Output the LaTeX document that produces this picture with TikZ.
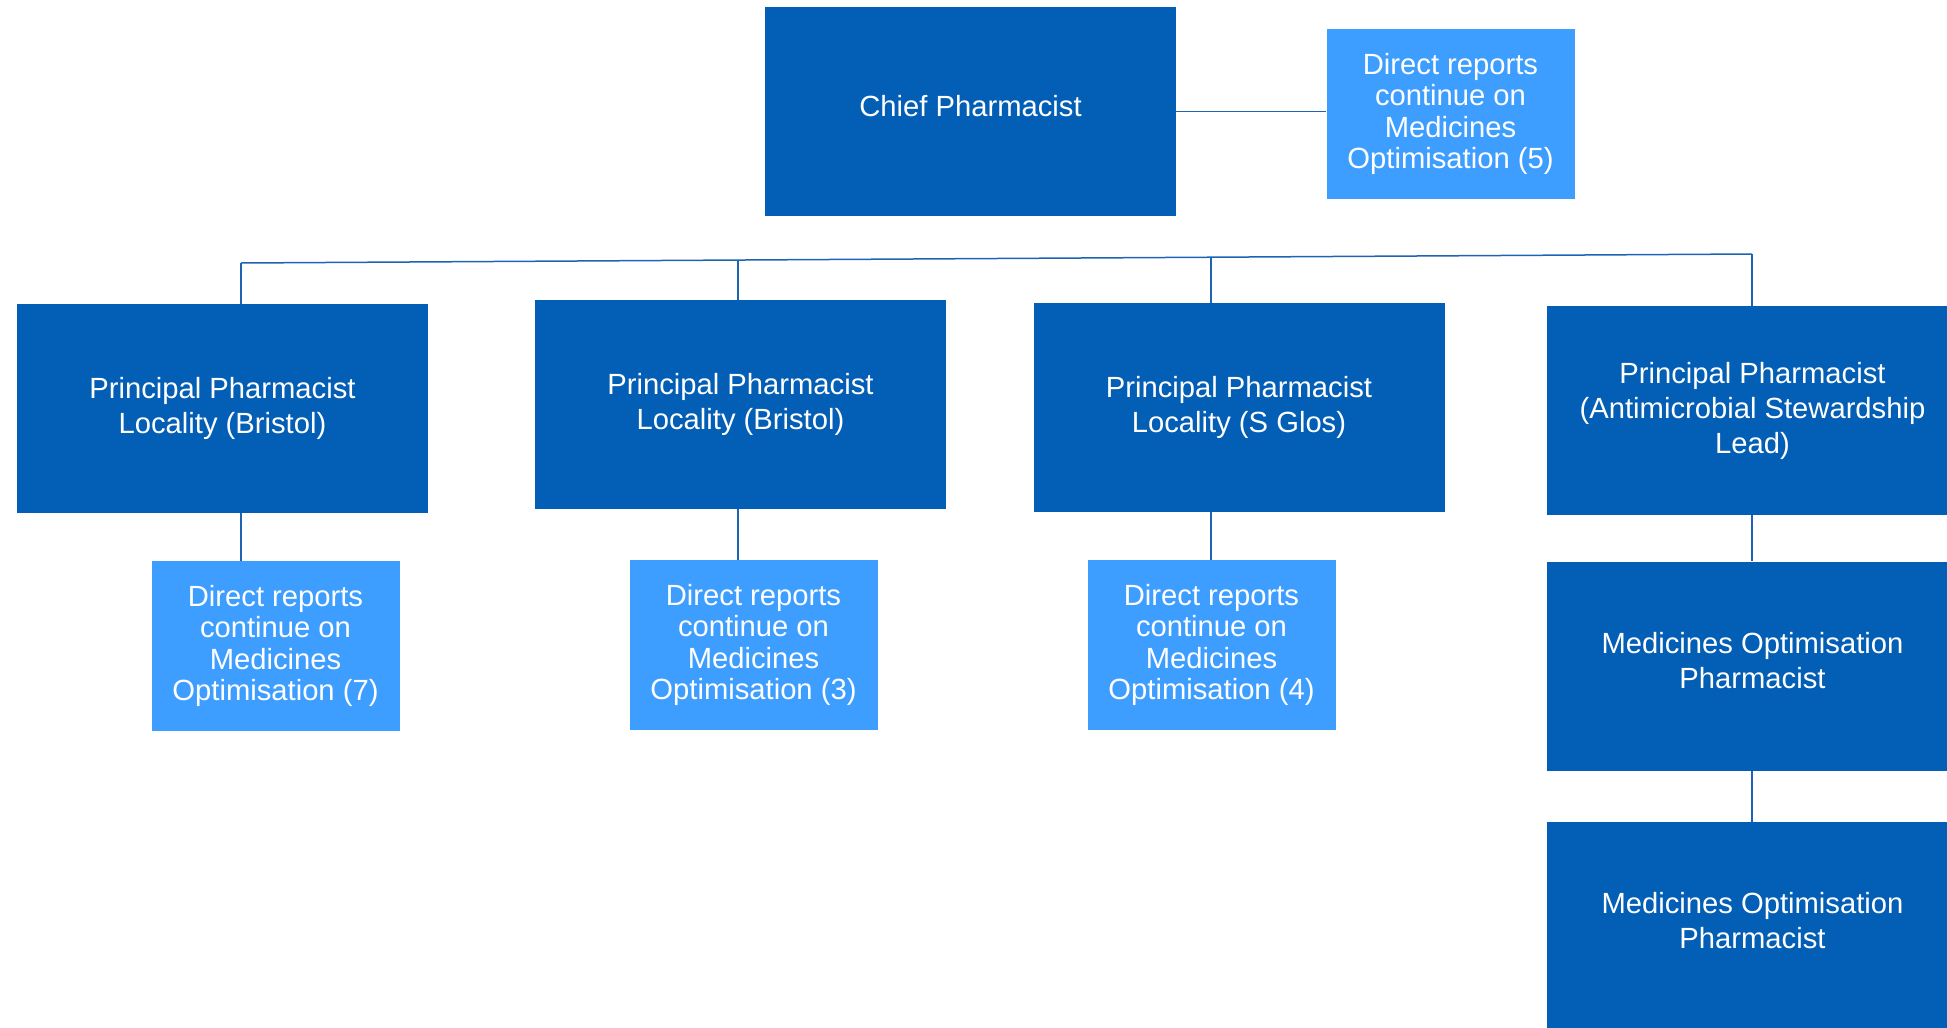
\documentclass[tikz,border=0pt]{standalone}
\usepackage{fontspec}
\setmainfont{Liberation Sans}
\definecolor{darkbox}{RGB}{3,94,181}
\definecolor{lightbox}{RGB}{62,158,255}
\definecolor{linkcol}{RGB}{30,100,180}
\begin{document}
\begin{tikzpicture}[x=1pt,y=-1pt,
  bigbox/.style={fill=darkbox,draw=none,minimum width=411pt,minimum height=209pt,inner sep=0pt,
    text=white,align=center,font=\fontsize{29.2pt}{35pt}\selectfont},
  smallbox/.style={fill=lightbox,draw=none,minimum width=248pt,minimum height=170pt,inner sep=0pt,
    text=white,align=center,font=\fontsize{29.2pt}{31.5pt}\selectfont},
  raised/.style={text depth=12pt},
  link/.style={draw=linkcol,line width=1.5pt}]
\useasboundingbox (0,0) rectangle (1947,1028);
\node[bigbox,raised] (chief) at (970.5,111.5) {Chief Pharmacist};
\node[smallbox] (dr5) at (1450.5,114) {Direct reports\\continue on\\Medicines\\Optimisation (5)};
\node[bigbox] (pp1) at (222.5,408.5) {Principal Pharmacist\\Locality (Bristol)};
\node[bigbox] (pp2) at (740.5,404.5) {Principal Pharmacist\\Locality (Bristol)};
\node[bigbox] (pp3) at (1239,407.5) {Principal Pharmacist\\Locality (S Glos)};
\node[bigbox] (pp4) at (1752.5,410.5) {Principal Pharmacist\\(Antimicrobial Stewardship\\Lead)};
\node[smallbox] (dr7) at (275.5,646) {Direct reports\\continue on\\Medicines\\Optimisation (7)};
\node[smallbox] (dr3) at (753.5,645) {Direct reports\\continue on\\Medicines\\Optimisation (3)};
\node[smallbox] (dr4) at (1211.5,645) {Direct reports\\continue on\\Medicines\\Optimisation (4)};
\node[bigbox,raised] (mop1) at (1752.5,666) {Medicines Optimisation\\Pharmacist};
\node[bigbox,raised] (mop2) at (1752.5,926.5) {Medicines Optimisation\\Pharmacist};
% connectors
\coordinate (busL) at (241,263);
\coordinate (b2) at (738,260);
\coordinate (b3) at (1211,257);
\coordinate (busR) at (1752,254);
\draw[link] (chief.east) -- (chief.east -| dr5.west);
\draw[link] (busL) -- (busR);
\draw[link] (busL) -- (busL |- pp1.north);
\draw[link] (b2) -- (b2 |- pp2.north);
\draw[link] (b3) -- (b3 |- pp3.north);
\draw[link] (busR) -- (busR |- pp4.north);
\draw[link] (busL |- pp1.south) -- (busL |- dr7.north);
\draw[link] (b2 |- pp2.south) -- (b2 |- dr3.north);
\draw[link] (b3 |- pp3.south) -- (b3 |- dr4.north);
\draw[link] (busR |- pp4.south) -- (busR |- mop1.north);
\draw[link] (busR |- mop1.south) -- (busR |- mop2.north);
\end{tikzpicture}
\end{document}
